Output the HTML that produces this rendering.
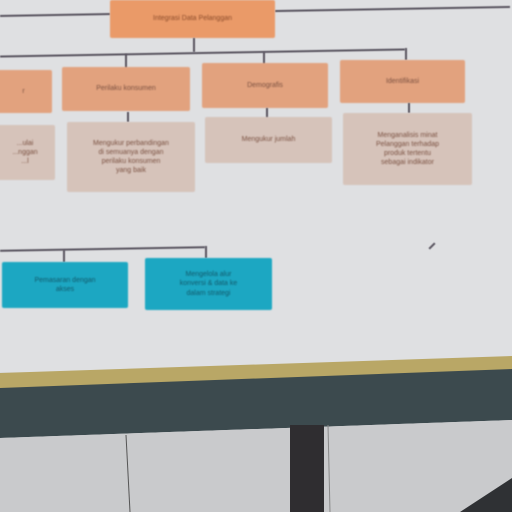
<!DOCTYPE html>
<html><head><style>
body{margin:0;width:512px;height:512px;overflow:hidden;background:#d9dadc;font-family:"Liberation Sans",sans-serif;position:relative}
.b{position:absolute;box-sizing:border-box;display:flex;align-items:center;justify-content:center;text-align:center;font-size:7px;color:#7a5040;filter:blur(0.8px);border-radius:2px;line-height:1.3}
.o{background:#e2a27e}
.l{background:#d6c3ba}
.c{background:#1ca7c2;color:#11586a}
.ln{position:absolute;background:#5a5560;filter:blur(0.6px)}
</style></head><body>
<div style="position:absolute;left:0;top:0;width:512px;height:372px;background:#dfe0e2"></div>
<div class="ln" style="left:0;top:14px;width:110px;height:2px;transform:rotate(-1deg)"></div>
<div class="ln" style="left:275px;top:8px;width:235px;height:2px;transform:rotate(-1deg)"></div>
<div class="b" style="left:110px;top:0;width:165px;height:38px;background:#ea9a68;color:#8a4a2a">Integrasi Data Pelanggan</div>
<div class="ln" style="left:193px;top:38px;width:2px;height:14px"></div>
<div class="ln" style="left:0;top:52px;width:405px;height:2px;transform:rotate(-1deg)"></div>
<div class="ln" style="left:125px;top:54px;width:2px;height:14px"></div>
<div class="ln" style="left:263px;top:52px;width:2px;height:12px"></div>
<div class="ln" style="left:405px;top:48px;width:2px;height:12px"></div>
<div class="b o" style="left:-5px;top:70px;width:57px;height:43px">r</div>
<div class="b o" style="left:62px;top:67px;width:128px;height:44px">Perilaku konsumen</div>
<div class="b o" style="left:202px;top:63px;width:126px;height:45px">Demografis</div>
<div class="b o" style="left:340px;top:60px;width:125px;height:43px">Identifikasi</div>
<div class="ln" style="left:127px;top:112px;width:2px;height:10px"></div>
<div class="ln" style="left:266px;top:108px;width:2px;height:10px"></div>
<div class="ln" style="left:408px;top:103px;width:2px;height:10px"></div>
<div class="b l" style="left:-5px;top:125px;width:60px;height:55px">...ulai<br>...nggan<br>...l</div>
<div class="b l" style="left:67px;top:122px;width:128px;height:70px">Mengukur perbandingan<br>di semuanya dengan<br>perilaku konsumen<br>yang baik</div>
<div class="b l" style="left:205px;top:117px;width:127px;height:46px">Mengukur jumlah</div>
<div class="b l" style="left:343px;top:113px;width:129px;height:72px">Menganalisis minat<br>Pelanggan terhadap<br>produk tertentu<br>sebagai indikator</div>
<div class="ln" style="left:0;top:248px;width:205px;height:2px;transform:rotate(-1deg)"></div>
<div class="ln" style="left:63px;top:250px;width:2px;height:12px"></div>
<div class="ln" style="left:205px;top:246px;width:2px;height:12px"></div>
<div class="b c" style="left:2px;top:262px;width:126px;height:46px">Pemasaran dengan<br>akses</div>
<div class="b c" style="left:145px;top:258px;width:127px;height:52px">Mengelola alur<br>konversi & data ke<br>dalam strategi</div>
<div class="ln" style="left:428px;top:245px;width:8px;height:2px;transform:rotate(-45deg)"></div>
<svg style="position:absolute;left:0;top:0" width="512" height="512">
<polygon points="0,373 512,356 512,372 0,390" fill="#b9a766"/>
<polygon points="0,388 512,369 512,420 0,438" fill="#3c4a4e"/>
<polygon points="0,438 512,420 512,512 0,512" fill="#c9cacc"/>
<rect x="290" y="425" width="34" height="87" fill="#2f2d30"/>
<line x1="126" y1="435" x2="130" y2="512" stroke="#555" stroke-width="1"/>
<line x1="328" y1="425" x2="330" y2="512" stroke="#888" stroke-width="1"/>
<polygon points="460,512 512,478 512,512" fill="#2f3134"/>
</svg>
</body></html>
